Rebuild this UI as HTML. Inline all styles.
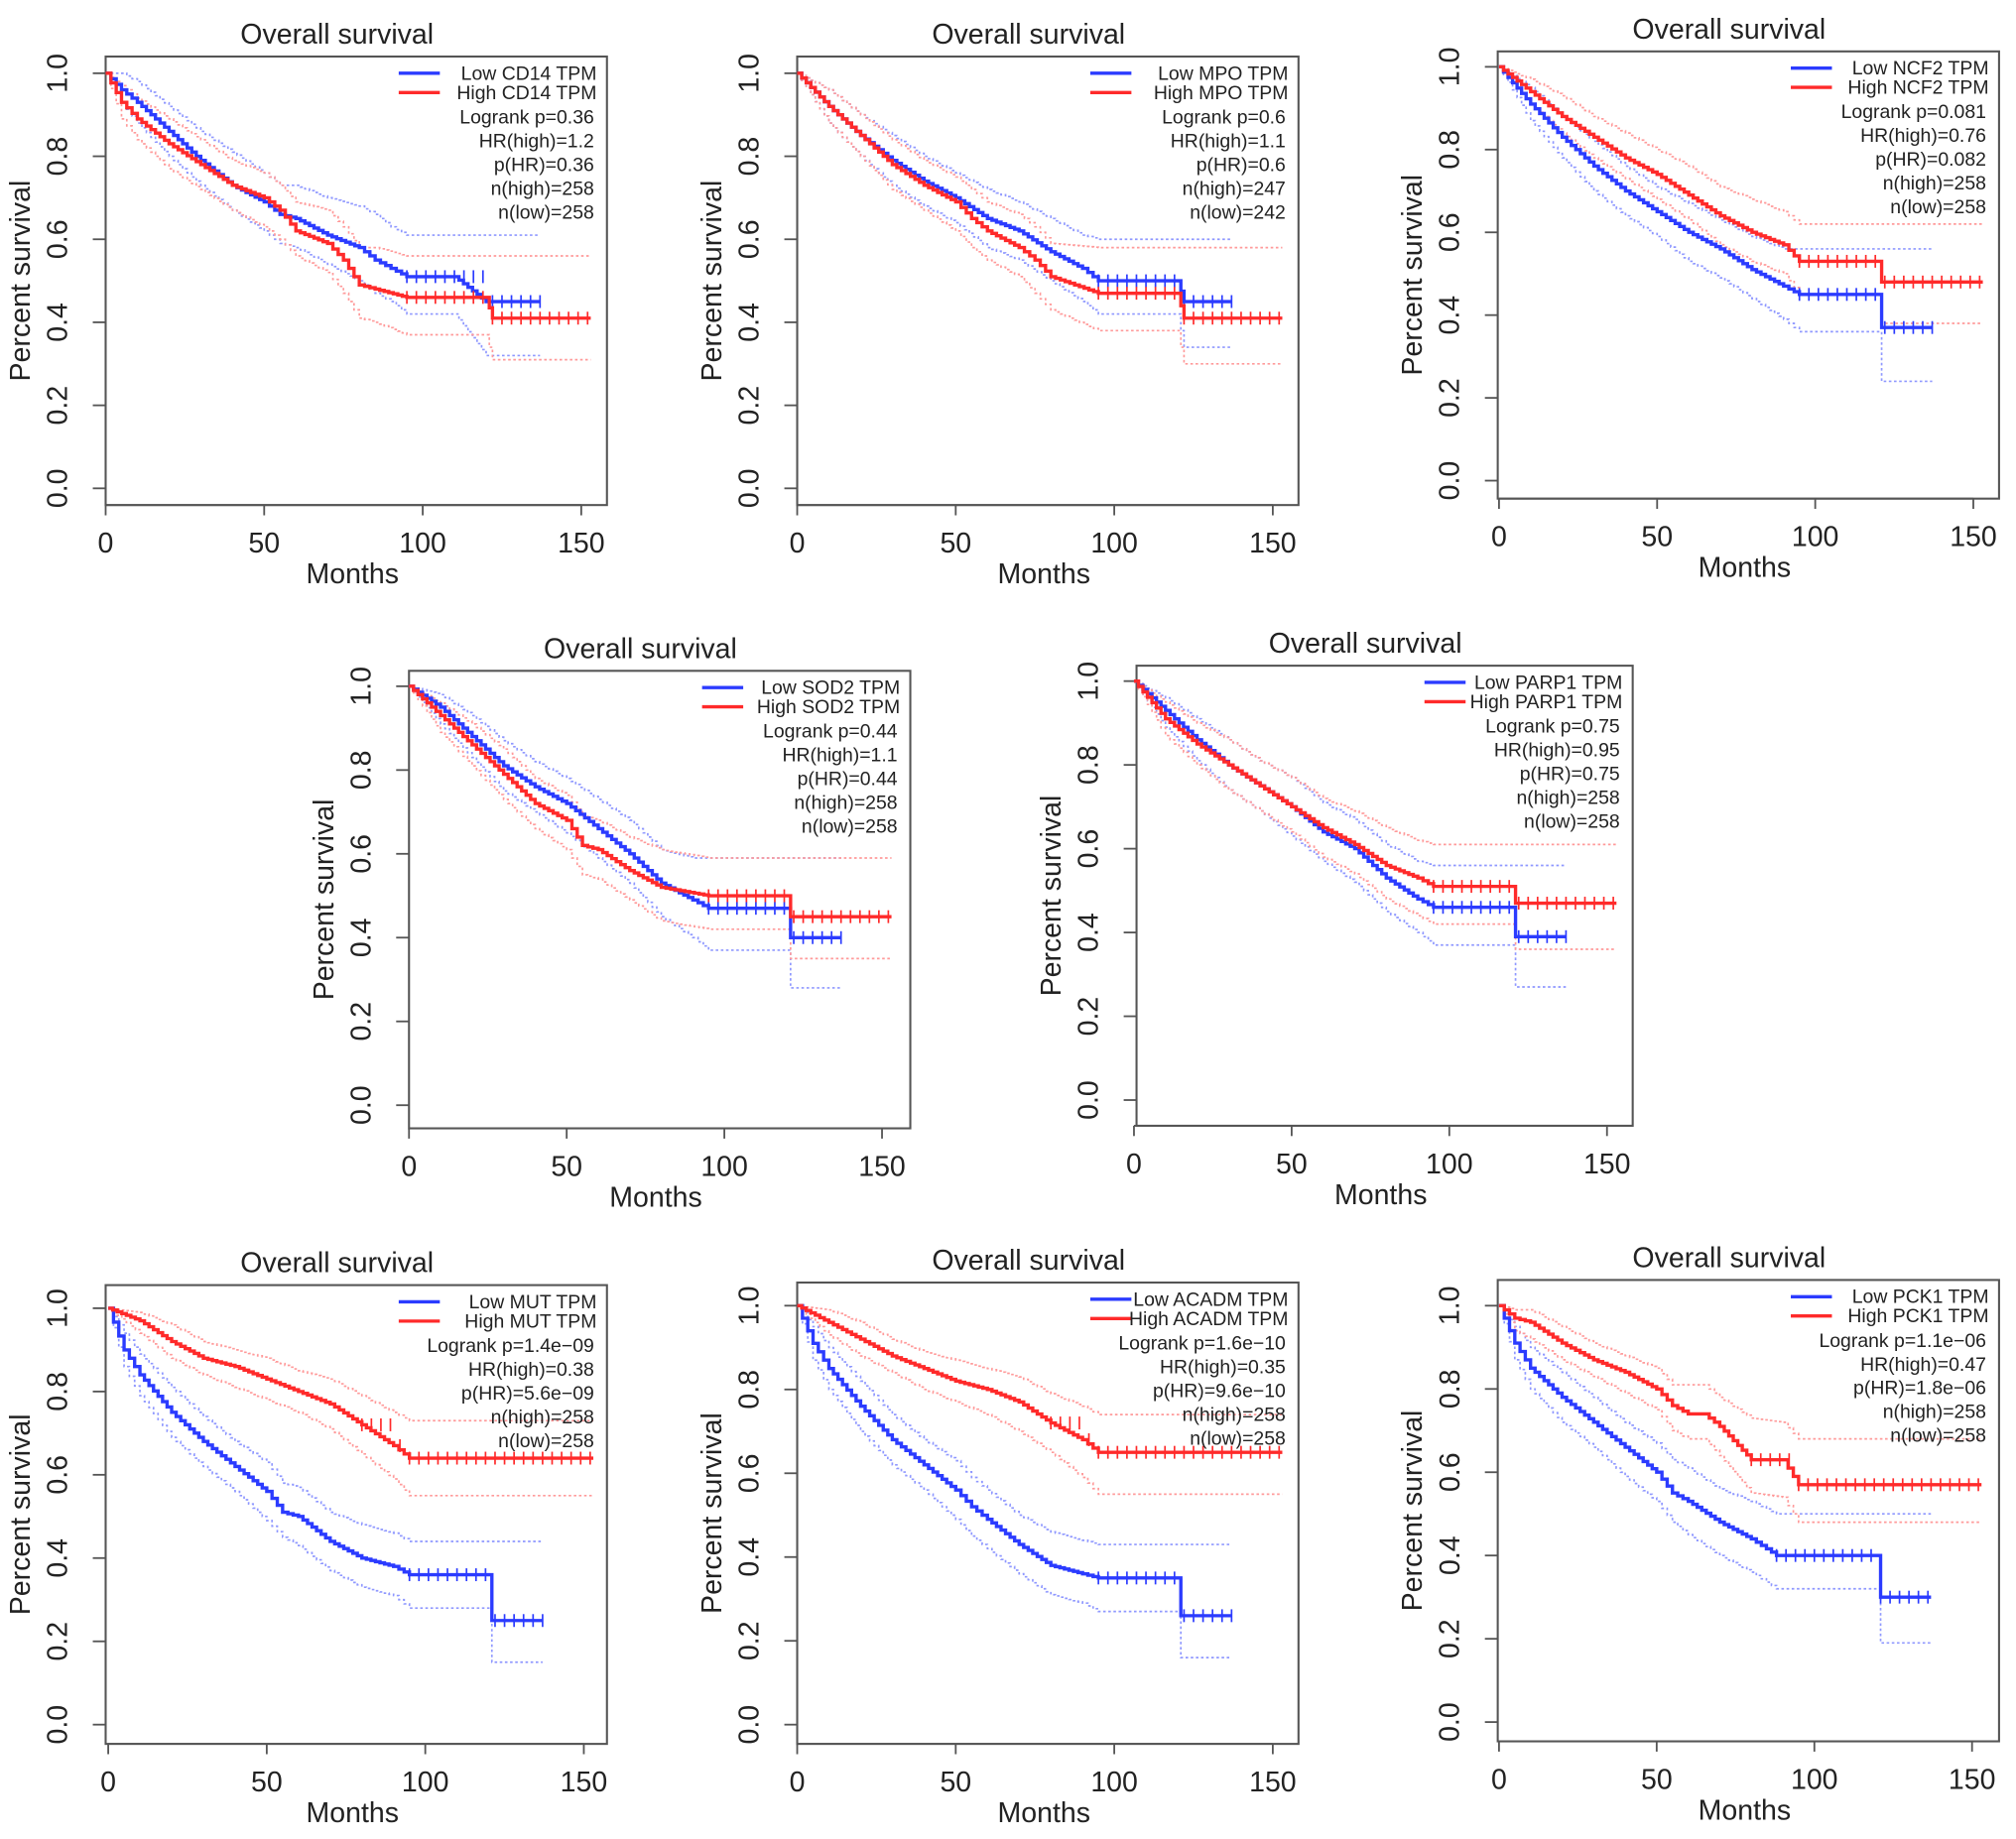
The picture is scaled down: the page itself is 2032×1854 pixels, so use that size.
<!DOCTYPE html>
<html><head><meta charset="utf-8"><style>
html,body{margin:0;padding:0;background:#fff;}
svg{display:block;font-family:"Liberation Sans",sans-serif;}
</style></head><body>
<svg id="fig" width="2032" height="1854" viewBox="0 0 1568 1431" xmlns="http://www.w3.org/2000/svg"></svg>
<script>
// Panel data (months / survival)
const cd14LowT=[0,5,10,20,30,40,50,55,60,70,80,85,90,95,110,120,137];
const cd14LowS=[1,.96,.93,.86,.79,.73,.69,.66,.65,.61,.58,.55,.53,.51,.51,.45,.45];
const cd14LowU=[1,1,.98,.92,.86,.81,.76,.73,.73,.70,.68,.66,.63,.61,.61,.61,.61];
const cd14LowL=[1,.93,.88,.80,.73,.67,.62,.59,.58,.54,.50,.47,.45,.42,.42,.32,.32];
const cd14HighT=[0,5,10,20,30,40,50,55,60,70,75,80,85,95,120,122,153];
const cd14HighS=[1,.93,.89,.83,.78,.73,.70,.67,.62,.59,.55,.49,.48,.46,.46,.41,.41];
const cd14HighU=[1,.97,.94,.89,.84,.79,.76,.73,.69,.67,.63,.58,.58,.56,.56,.56,.56];
const cd14HighL=[1,.89,.84,.77,.72,.67,.63,.60,.56,.52,.47,.41,.40,.37,.37,.31,.31];

const mpoLowT=[0,10,20,30,40,50,60,70,80,90,95,120,122,137];
const mpoLowS=[1,.92,.85,.79,.74,.70,.65,.62,.57,.53,.50,.50,.45,.45];
const mpoLowU=[1,.96,.90,.85,.80,.76,.72,.69,.65,.61,.60,.60,.60,.60];
const mpoLowL=[1,.88,.80,.73,.68,.64,.58,.55,.50,.45,.42,.42,.34,.34];
const mpoHighT=[0,10,20,30,40,50,55,60,70,75,80,95,120,122,153];
const mpoHighS=[1,.92,.85,.78,.73,.69,.65,.62,.58,.55,.51,.47,.47,.41,.41];
const mpoHighU=[1,.96,.90,.84,.79,.75,.72,.69,.66,.63,.59,.58,.58,.58,.58];
const mpoHighL=[1,.88,.80,.72,.67,.62,.58,.55,.51,.47,.43,.38,.38,.30,.30];

const ncf2LowT=[0,10,20,30,40,50,60,70,80,90,95,120,121,137];
const ncf2LowS=[1,.91,.83,.76,.70,.65,.60,.56,.51,.47,.45,.45,.37,.37];
const ncf2LowU=[1,.95,.88,.82,.76,.71,.67,.63,.59,.56,.56,.56,.56,.56];
const ncf2LowL=[1,.87,.78,.70,.64,.59,.53,.49,.44,.39,.36,.36,.24,.24];
const ncf2HighT=[0,10,20,30,40,50,60,70,80,90,95,120,121,153];
const ncf2HighS=[1,.94,.88,.83,.78,.74,.69,.64,.60,.57,.53,.53,.48,.48];
const ncf2HighU=[1,.97,.93,.88,.84,.80,.76,.71,.68,.65,.62,.62,.62,.62];
const ncf2HighL=[1,.91,.84,.78,.73,.68,.63,.57,.53,.50,.45,.45,.38,.38];

const sod2LowT=[0,10,20,30,40,50,60,70,80,90,95,120,121,137];
const sod2LowS=[1,.95,.88,.81,.76,.72,.66,.60,.53,.49,.47,.47,.40,.40];
const sod2LowU=[1,.98,.93,.87,.82,.78,.73,.68,.61,.59,.59,.59,.59,.59];
const sod2LowL=[1,.91,.83,.75,.70,.65,.59,.53,.45,.40,.37,.37,.28,.28];
const sod2HighT=[0,10,20,30,40,50,55,60,70,80,95,120,121,153];
const sod2HighS=[1,.93,.86,.79,.72,.68,.62,.61,.56,.52,.50,.50,.45,.45];
const sod2HighU=[1,.96,.91,.85,.78,.74,.69,.68,.64,.61,.59,.59,.59,.59];
const sod2HighL=[1,.89,.81,.73,.66,.61,.55,.54,.49,.44,.42,.42,.35,.35];

const parp1LowT=[0,10,20,30,40,50,60,70,80,90,95,120,121,137];
const parp1LowS=[1,.93,.86,.80,.75,.70,.64,.60,.53,.48,.46,.46,.39,.39];
const parp1LowU=[1,.96,.91,.86,.81,.77,.71,.67,.61,.57,.56,.56,.56,.56];
const parp1LowL=[1,.89,.81,.74,.69,.63,.57,.52,.45,.40,.37,.37,.27,.27];
const parp1HighT=[0,10,20,30,40,50,60,70,80,90,95,120,121,153];
const parp1HighS=[1,.91,.85,.80,.75,.70,.65,.61,.56,.53,.51,.51,.47,.47];
const parp1HighU=[1,.95,.90,.86,.81,.77,.72,.69,.65,.62,.61,.61,.61,.61];
const parp1HighL=[1,.87,.80,.74,.69,.64,.58,.54,.48,.44,.42,.42,.36,.36];

const mutLowT=[0,5,10,20,30,40,50,55,60,70,80,90,95,120,121,137];
const mutLowS=[1,.90,.84,.75,.68,.62,.56,.51,.50,.44,.40,.38,.36,.36,.25,.25];
const mutLowU=[1,.94,.89,.81,.74,.68,.63,.58,.57,.51,.48,.46,.44,.44,.44,.44];
const mutLowL=[1,.86,.79,.69,.62,.56,.49,.45,.43,.37,.33,.31,.28,.28,.15,.15];
const mutHighT=[0,10,20,30,40,50,60,70,80,90,95,153];
const mutHighS=[1,.97,.92,.88,.86,.83,.80,.77,.72,.67,.64,.64];
const mutHighU=[1,.99,.96,.92,.90,.88,.85,.83,.79,.75,.73,.73];
const mutHighL=[1,.94,.88,.84,.81,.78,.75,.71,.65,.59,.55,.55];

const acadmLowT=[0,5,10,20,30,40,50,55,60,70,80,90,95,120,121,137];
const acadmLowS=[1,.91,.85,.76,.68,.62,.56,.52,.49,.43,.38,.36,.35,.35,.26,.26];
const acadmLowU=[1,.95,.90,.82,.74,.68,.63,.59,.56,.50,.46,.44,.43,.43,.43,.43];
const acadmLowL=[1,.87,.80,.70,.62,.56,.49,.45,.42,.36,.31,.29,.27,.27,.16,.16];
const acadmHighT=[0,10,20,30,40,50,60,70,80,90,95,153];
const acadmHighS=[1,.96,.92,.88,.85,.82,.80,.77,.72,.68,.65,.65];
const acadmHighU=[1,.99,.96,.92,.89,.87,.85,.83,.79,.76,.74,.74];
const acadmHighL=[1,.93,.88,.84,.80,.77,.74,.70,.65,.59,.55,.55];

const pck1LowT=[0,5,10,20,30,40,50,55,60,70,80,88,120,121,137];
const pck1LowS=[1,.91,.85,.78,.72,.66,.60,.55,.53,.48,.44,.40,.40,.30,.30];
const pck1LowU=[1,.95,.90,.84,.78,.72,.67,.63,.61,.56,.53,.50,.50,.50,.50];
const pck1LowL=[1,.87,.80,.72,.66,.59,.53,.48,.45,.40,.36,.32,.32,.19,.19];
const pck1HighT=[0,5,10,20,30,40,50,55,60,65,70,80,90,95,153];
const pck1HighS=[1,.97,.96,.91,.87,.84,.80,.76,.74,.74,.71,.63,.63,.57,.57];
const pck1HighU=[1,.99,.99,.95,.91,.88,.85,.81,.81,.81,.78,.73,.72,.68,.68];
const pck1HighL=[1,.94,.92,.87,.83,.79,.75,.70,.68,.68,.64,.55,.54,.48,.48];

const xTicks=[0,50,100,150];
const yTicks=[0,0.2,0.4,0.6,0.8,1.0];

const NS='http://www.w3.org/2000/svg';
const svg=document.getElementById('fig');
function mk(tag,attrs,parent,text){
  const e=document.createElementNS(NS,tag);
  for(const k in attrs)e.setAttribute(k,attrs[k]);
  if(text!==undefined)e.textContent=text;
  parent.appendChild(e);return e;
}
// many small steps between readings, approximating KM staircase
function kmPath(T,S,sx,sy){
  let d='M'+sx(T[0])+','+sy(S[0]);
  for(let i=1;i<T.length;i++){
    const dt=T[i]-T[i-1], ds=S[i]-S[i-1];
    if(ds===0||dt<=1){d+=' H'+sx(T[i])+' V'+sy(S[i]);continue;}
    const n=Math.max(2,Math.round(dt/1.5));
    for(let k=1;k<=n;k++){
      d+=' H'+sx(T[i-1]+dt*k/n)+' V'+sy(S[i-1]+ds*k/n);
    }
  }
  return d;
}
function valAt(T,S,m){
  for(let i=T.length-1;i>=0;i--){ if(m>=T[i]) return S[i]; }
  return S[0];
}
function panel(cfg){
  const g=mk('g',{},svg);
  
  
  const sx=v=>cfg.x0+(cfg.x150-cfg.x0)*v/150;
  const sy=v=>cfg.y0+(cfg.y1-cfg.y0)*v;
  const box=mk('rect',{x:cfg.bl,y:cfg.bt,width:cfg.br-cfg.bl,height:cfg.bb-cfg.bt,fill:'none',stroke:'#555','stroke-width':1.6},g);
  
  
  const t=mk('text',{x:(cfg.bl+cfg.br)/2-15,y:cfg.bt-10,'font-size':22,'text-anchor':'middle',fill:'#222'},g,'Overall survival');
  
  
  yTicks.forEach(v=>{
    mk('line',{x1:cfg.bl-10,x2:cfg.bl,y1:sy(v),y2:sy(v),stroke:'#555','stroke-width':1.4},g);
    const lx=cfg.bl-30,ly=sy(v);
    const tl=mk('text',{x:lx,y:ly,'font-size':22,'text-anchor':'middle',fill:'#222',transform:'rotate(-90 '+lx+' '+ly+')'},g,v.toFixed(1));
    
    
  });
  const ylx=cfg.bl-59,yly=(cfg.bt+cfg.bb)/2;
  const yl=mk('text',{x:ylx,y:yly,'font-size':22,'text-anchor':'middle',fill:'#222',transform:'rotate(-90 '+ylx+' '+yly+')'},g,'Percent survival');
  
  
  mk('line',{x1:sx(0),x2:sx(150),y1:cfg.bb,y2:cfg.bb,stroke:'#555','stroke-width':1.4},g);
  xTicks.forEach(v=>{
    mk('line',{x1:sx(v),x2:sx(v),y1:cfg.bb,y2:cfg.bb+8,stroke:'#555','stroke-width':1.4},g);
    const tl=mk('text',{x:sx(v),y:cfg.bb+37,'font-size':22,'text-anchor':'middle',fill:'#222'},g,String(v));
    
    
  });
  const xl=mk('text',{x:(cfg.bl+cfg.br)/2-3,y:cfg.bb+61,'font-size':22,'text-anchor':'middle',fill:'#222'},g,'Months');
  
  
  const series=[
    {T:cfg.lowT,S:cfg.lowS,U:cfg.lowU,L:cfg.lowL,c:'#2b3bff',cc:'#8f98ff',n:'low'},
    {T:cfg.highT,S:cfg.highS,U:cfg.highU,L:cfg.highL,c:'#ff2a2a',cc:'#ff9a9a',n:'high'}
  ];
  series.forEach(s=>{
    [s.U,s.L].forEach((arr,k)=>{
      const p=mk('path',{d:kmPath(s.T,arr,sx,sy),fill:'none',stroke:s.cc,'stroke-width':1.3,'stroke-dasharray':'2,2'},g);
      
      
    });
  });
  series.forEach(s=>{
    const p=mk('path',{d:kmPath(s.T,s.S,sx,sy),fill:'none',stroke:s.c,'stroke-width':2.6},g);
    
    
    const n=s.T.length;
    const a=s.T[n-4],b=s.T[n-1];
    for(let m=a;m<=b;m+=3){
      const v=valAt(s.T,s.S,m);
      mk('line',{x1:sx(m),x2:sx(m),y1:sy(v)-5,y2:sy(v)+5,stroke:s.c,'stroke-width':1.3},g);
    }
  });
  const R=cfg.br-10;const ly0=cfg.bt+18;
  const lg=mk('g',{},g);
  
  
  const lines=[['Low '+cfg.gene+' TPM','#2b3bff'],['High '+cfg.gene+' TPM','#ff2a2a']];
  lines.forEach((l,i)=>{
    const y=ly0+i*15;
    mk('line',{x1:R-152,x2:R-120,y1:y-5,y2:y-5,stroke:l[1],'stroke-width':2.6},lg);
    const tx=mk('text',{x:R+2,y:y,'font-size':15,'text-anchor':'end',fill:'#222'},lg,l[0]);
    
    
  });
  cfg.stats.forEach((s,i)=>{
    const tx=mk('text',{x:R,y:ly0+34+i*18.5,'font-size':15,'text-anchor':'end',fill:'#222'},lg,s);
    
    
  });
}
panel({bl:82,br:472,bt:44,bb:393,x0:82,x150:452,y1:57,y0:380,name:'cd14',gene:'CD14',lowT:cd14LowT,lowS:cd14LowS,lowU:cd14LowU,lowL:cd14LowL,highT:cd14HighT,highS:cd14HighS,highU:cd14HighU,highL:cd14HighL,stats:['Logrank p=0.36','HR(high)=1.2','p(HR)=0.36','n(high)=258','n(low)=258']});
panel({bl:620,br:1010,bt:44,bb:393,x0:620,x150:990,y1:57,y0:380,name:'mpo',gene:'MPO',lowT:mpoLowT,lowS:mpoLowS,lowU:mpoLowU,lowL:mpoLowL,highT:mpoHighT,highS:mpoHighS,highU:mpoHighU,highL:mpoHighL,stats:['Logrank p=0.6','HR(high)=1.1','p(HR)=0.6','n(high)=247','n(low)=242']});
panel({bl:1165,br:1555,bt:40,bb:388,x0:1166,x150:1535,y1:52,y0:374,name:'ncf2',gene:'NCF2',lowT:ncf2LowT,lowS:ncf2LowS,lowU:ncf2LowU,lowL:ncf2LowL,highT:ncf2HighT,highS:ncf2HighS,highU:ncf2HighU,highL:ncf2HighL,stats:['Logrank p=0.081','HR(high)=0.76','p(HR)=0.082','n(high)=258','n(low)=258']});
panel({bl:318,br:708,bt:522,bb:878,x0:318,x150:686,y1:534,y0:860,name:'sod2',gene:'SOD2',lowT:sod2LowT,lowS:sod2LowS,lowU:sod2LowU,lowL:sod2LowL,highT:sod2HighT,highS:sod2HighS,highU:sod2HighU,highL:sod2HighL,stats:['Logrank p=0.44','HR(high)=1.1','p(HR)=0.44','n(high)=258','n(low)=258']});
panel({bl:884,br:1270,bt:518,bb:876,x0:882,x150:1250,y1:530,y0:856,name:'parp1',gene:'PARP1',lowT:parp1LowT,lowS:parp1LowS,lowU:parp1LowU,lowL:parp1LowL,highT:parp1HighT,highS:parp1HighS,highU:parp1HighU,highL:parp1HighL,stats:['Logrank p=0.75','HR(high)=0.95','p(HR)=0.75','n(high)=258','n(low)=258']});
panel({bl:82,br:472,bt:1000,bb:1357,x0:84,x150:454,y1:1018,y0:1342,name:'mut',gene:'MUT',lowT:mutLowT,lowS:mutLowS,lowU:mutLowU,lowL:mutLowL,highT:mutHighT,highS:mutHighS,highU:mutHighU,highL:mutHighL,stats:['Logrank p=1.4e\u221209','HR(high)=0.38','p(HR)=5.6e\u221209','n(high)=258','n(low)=258']});
panel({bl:620,br:1010,bt:998,bb:1357,x0:620,x150:990,y1:1016,y0:1342,name:'acadm',gene:'ACADM',lowT:acadmLowT,lowS:acadmLowS,lowU:acadmLowU,lowL:acadmLowL,highT:acadmHighT,highS:acadmHighS,highU:acadmHighU,highL:acadmHighL,stats:['Logrank p=1.6e\u221210','HR(high)=0.35','p(HR)=9.6e\u221210','n(high)=258','n(low)=258']});
panel({bl:1165,br:1555,bt:996,bb:1355,x0:1166,x150:1534,y1:1016,y0:1340,name:'pck1',gene:'PCK1',lowT:pck1LowT,lowS:pck1LowS,lowU:pck1LowU,lowL:pck1LowL,highT:pck1HighT,highS:pck1HighS,highU:pck1HighU,highL:pck1HighL,stats:['Logrank p=1.1e\u221206','HR(high)=0.47','p(HR)=1.8e\u221206','n(high)=258','n(low)=258']});
</script>
</body></html>
